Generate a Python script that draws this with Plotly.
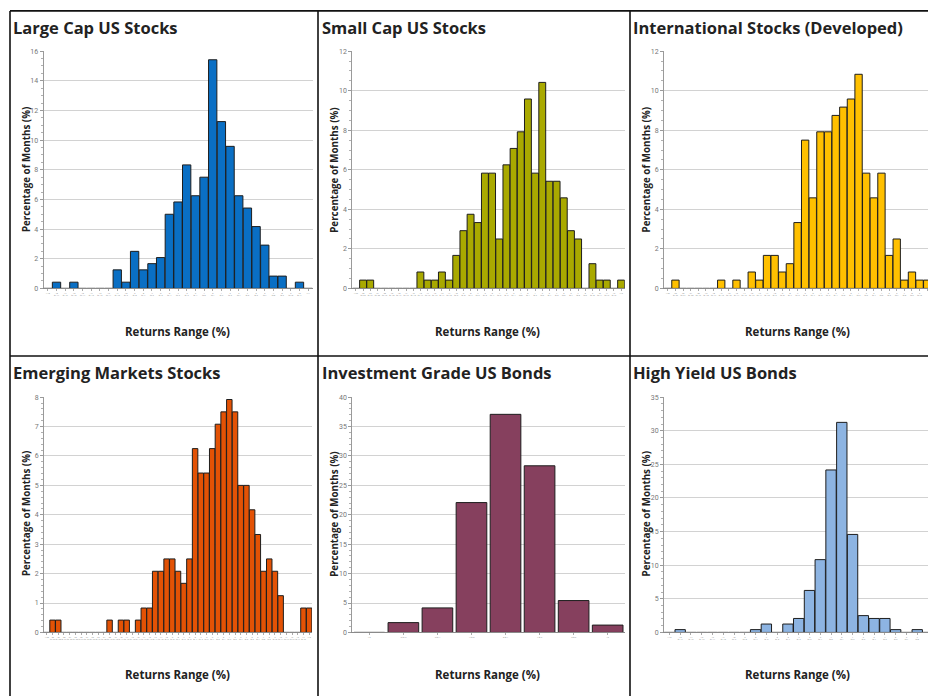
import plotly.graph_objects as go

W, H = 928, 700


def range_labels(lo, hi, sep=" "):
    """Bin labels: '<lo', 'a to a+1' for each whole percent, '>hi'."""
    labels = [f"<{lo}"]
    for a in range(lo, hi):
        labels.append(f"{a}{sep}to {a + 1}")
    labels.append(f">{hi}")
    return labels


# ---- data: share of months (%) falling in each monthly-return bin ----
large_cap_bins = range_labels(-18, 11, "<br>")
large_cap_pct = [0, 0.42, 0, 0.42, 0, 0, 0, 0, 1.25, 0.42, 2.50, 1.25, 1.67, 2.08,
                 5.00, 5.83, 8.33, 6.25, 7.50, 15.42, 11.25, 9.58, 6.25, 5.42, 4.17,
                 2.92, 0.83, 0.83, 0, 0.42, 0]

small_cap_bins = range_labels(-23, 13, "<br>")
small_cap_pct = [0, 0.42, 0.42, 0, 0, 0, 0, 0, 0, 0.83, 0.42, 0.42, 0.83, 0.42, 1.67,
                 2.92, 3.75, 3.33, 5.83, 5.83, 2.50, 6.25, 7.08, 7.92, 9.58, 5.83,
                 10.42, 5.42, 5.42, 4.58, 2.92, 2.50, 0, 1.25, 0.42, 0.42, 0, 0.42]

intl_bins = range_labels(-23, 11, "<br>")
intl_pct = [0, 0.42, 0, 0, 0, 0, 0, 0.42, 0, 0.42, 0, 0.83, 0.42, 1.67, 1.67, 0.83,
            1.25, 3.33, 7.50, 4.58, 7.92, 7.92, 8.75, 9.17, 9.58, 10.83, 5.83, 4.58,
            5.83, 1.67, 2.50, 0.42, 0.83, 0.42, 0.42, 0]

emerging_bins = range_labels(-30, 15, "<br>")
emerging_pct = [0, 0.42, 0.42, 0, 0, 0, 0, 0, 0, 0, 0, 0.42, 0, 0.42, 0.42, 0, 0.42,
                0.83, 0.83, 2.08, 2.08, 2.50, 2.50, 2.08, 1.67, 2.50, 6.25, 5.42, 5.42,
                6.25, 7.08, 7.50, 7.92, 7.50, 5.00, 5.00, 4.17, 3.33, 2.08, 2.50, 2.08,
                1.25, 0, 0, 0, 0.83, 0.83]

ig_bond_bins = range_labels(-3, 3)
ig_bond_pct = [0, 1.67, 4.17, 22.08, 37.08, 28.33, 5.42, 1.25]

hy_bond_bins = range_labels(-15, 8, "<br>")
hy_bond_pct = [0, 0.42, 0, 0, 0, 0, 0, 0, 0.42, 1.25, 0, 1.25, 2.08, 6.25, 10.83,
               24.17, 31.25, 14.58, 2.50, 2.08, 2.08, 0.42, 0, 0.42, 0]

titles = ["Large Cap US Stocks", "Small Cap US Stocks", "International Stocks (Developed)",
          "Emerging Markets Stocks", "Investment Grade US Bonds", "High Yield US Bonds"]

# ---- panel styling and placement (pixels) ----
panels = [
    dict(bins=large_cap_bins, pct=large_cap_pct, color="#0A6FC4", ymax=16, dtick=2,
         box=(43.5, 47.7, 312.5, 287.7), xend=None, bw=0.96),
    dict(bins=small_cap_bins, pct=small_cap_pct, color="#A9A900", ymax=12, dtick=2,
         box=(352.3, 47.7, 624.7, 287.7), xend=None, bw=0.96),
    dict(bins=intl_bins, pct=intl_pct, color="#FFC000", ymax=12, dtick=2,
         box=(664.0, 47.7, 928.0, 287.7), xend=34.1, bw=0.96),
    dict(bins=emerging_bins, pct=emerging_pct, color="#E35205", ymax=8, dtick=1,
         box=(44.0, 397.7, 312.0, 635.7), xend=None, bw=0.96),
    dict(bins=ig_bond_bins, pct=ig_bond_pct, color="#86405E", ymax=40, dtick=5,
         box=(352.3, 397.7, 624.7, 635.7), xend=None, bw=0.9),
    dict(bins=hy_bond_bins, pct=hy_bond_pct, color="#8DB4E2", ymax=35, dtick=5,
         box=(664.0, 397.7, 928.0, 635.7), xend=24.0, bw=0.96),
]

title_pos = [(10.5, 23.5), (319.5, 23.5), (631, 23.5), (10.5, 372.5), (319.5, 372.5), (631, 372.5)]
ylab_pos = [(26, 168), (333.7, 168), (646.3, 168), (26, 516), (333.7, 516), (646.3, 516)]
xlab_pos = [(177.5, 331), (487.5, 331), (797.5, 331), (177.5, 678.5), (487.5, 678.5), (797.5, 678.5)]

FONT = "Open Sans"
TEXT = "#222222"

fig = go.Figure()
layout = dict(
    width=W, height=H, margin=dict(l=0, r=0, t=0, b=0),
    paper_bgcolor="white", plot_bgcolor="white", showlegend=False,
    font=dict(family=FONT, color=TEXT),
)
annotations = []

for i, p in enumerate(panels, start=1):
    x0, y0, x1, y1 = p["box"]
    n = len(p["pct"])
    xs = list(range(n))
    fig.add_trace(go.Bar(
        x=xs, y=p["pct"], width=p["bw"],
        marker=dict(color=p["color"], line=dict(color="#1e1e1e", width=1)),
        xaxis=f"x{i}", yaxis=f"y{i}", hoverinfo="x+y",
    ))
    xend = p["xend"] if p["xend"] is not None else n - 0.5
    layout[f"xaxis{i}"] = dict(
        domain=[x0 / W, x1 / W], anchor=f"y{i}", range=[-0.5, xend],
        tickvals=xs, ticktext=p["bins"], tickangle=0,
        tickfont=dict(size=2, color="#888888", family="Roboto"),
        showline=True, linecolor="#8a8a8a", linewidth=1,
        ticks="outside", ticklen=2, tickcolor="#aaaaaa",
        showgrid=False, zeroline=False, fixedrange=True,
    )
    layout[f"yaxis{i}"] = dict(
        domain=[1 - y1 / H, 1 - y0 / H], anchor=f"x{i}", range=[0, p["ymax"]],
        dtick=p["dtick"], tick0=0,
        tickfont=dict(size=7, color="#777777", family="Roboto"),
        showline=True, linecolor="#9a9a9a", linewidth=1,
        ticks="outside", ticklen=3, tickcolor="#9a9a9a",
        minor=dict(ticks="outside", ticklen=2, nticks=5, tickcolor="#b0b0b0", showgrid=False),
        showgrid=True, gridcolor="#d2d2d2", gridwidth=1,
        zeroline=False, fixedrange=True,
    )

    tx, ty = title_pos[i - 1]
    annotations.append(dict(
        text=titles[i - 1], x=tx / W, y=1 - ty / H, xref="paper", yref="paper",
        xanchor="left", yanchor="middle", showarrow=False,
        font=dict(size=16.5, family=FONT, color=TEXT, weight="bold"),
    ))
    lx, ly = ylab_pos[i - 1]
    annotations.append(dict(
        text="Percentage of Months (%)", x=lx / W, y=1 - ly / H, xref="paper", yref="paper",
        xanchor="center", yanchor="middle", textangle=-90, showarrow=False,
        font=dict(size=9.8, family=FONT, color=TEXT, weight="bold"),
    ))
    rx, ry = xlab_pos[i - 1]
    annotations.append(dict(
        text="Returns Range (%)", x=rx / W, y=1 - ry / H, xref="paper", yref="paper",
        xanchor="center", yanchor="middle", showarrow=False,
        font=dict(size=11.5, family=FONT, color=TEXT, weight="bold"),
    ))

# panel frame lines
shapes = []
frame = dict(color="#111111", width=1.6)
for vx in (10, 318, 630):
    shapes.append(dict(type="line", xref="paper", yref="paper",
                       x0=vx / W, x1=vx / W, y0=1 - 7 / H, y1=0, line=frame))
for hy in (7, 356):
    shapes.append(dict(type="line", xref="paper", yref="paper",
                       x0=10 / W, x1=1, y0=1 - hy / H, y1=1 - hy / H, line=frame))

layout["annotations"] = annotations
layout["shapes"] = shapes
fig.update_layout(**layout)

fig.write_html("out.html")
